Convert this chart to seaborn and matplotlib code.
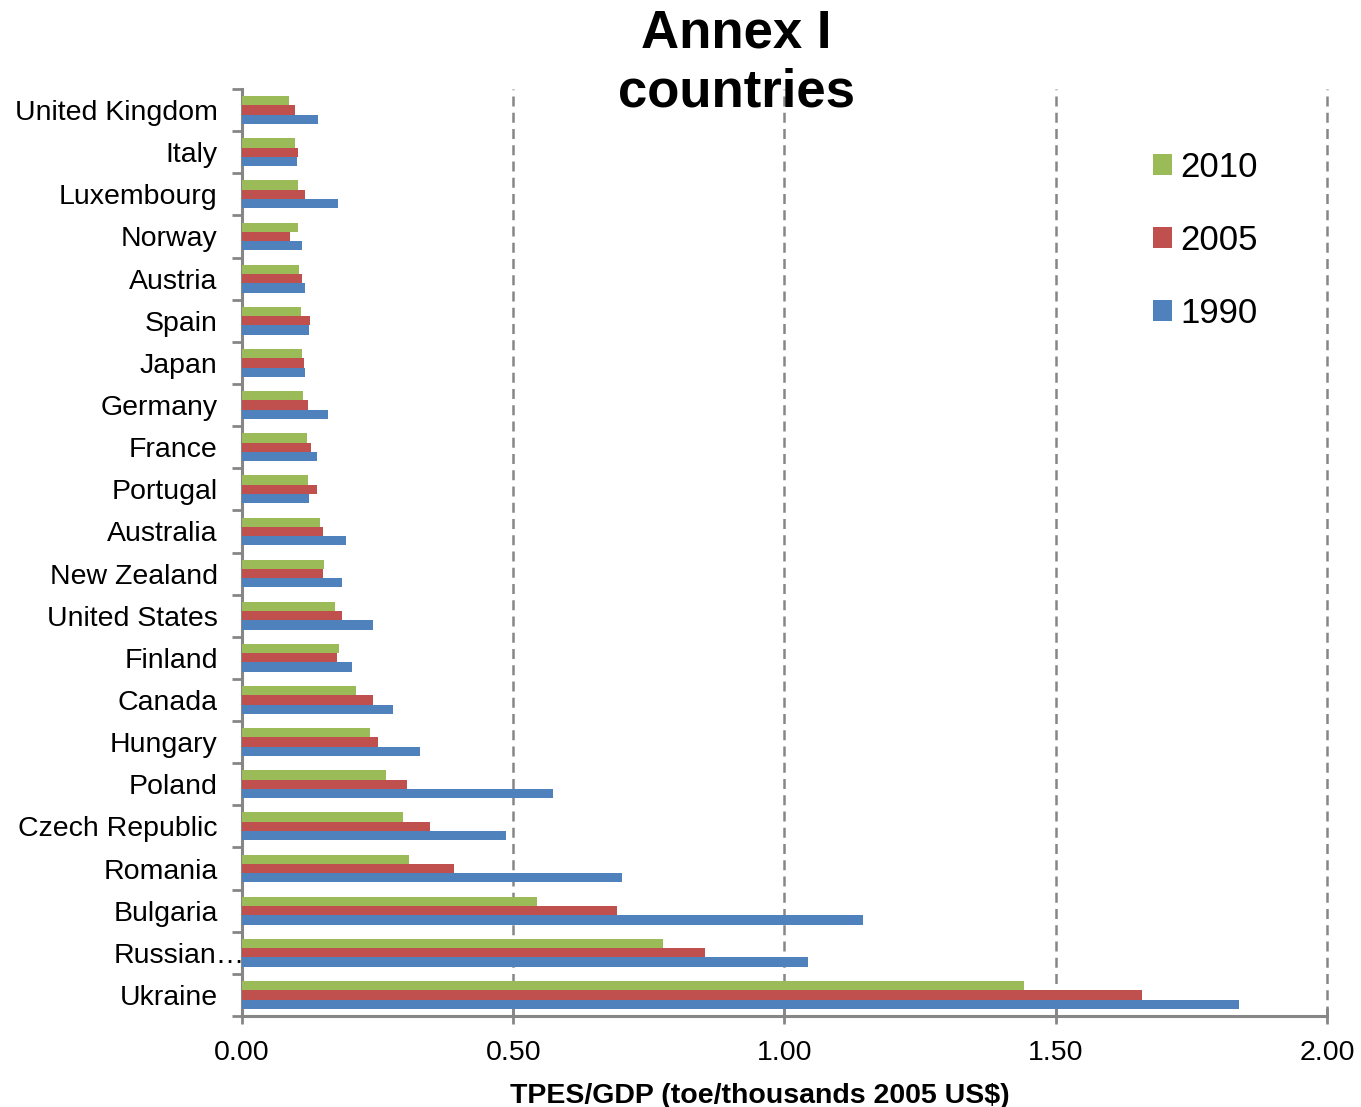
import matplotlib
matplotlib.use("Agg")
import matplotlib.pyplot as plt
from matplotlib.transforms import ScaledTranslation
from matplotlib.ticker import FixedLocator, MultipleLocator
import seaborn as sns
import pandas as pd

countries = ["United Kingdom", "Italy", "Luxembourg", "Norway", "Austria", "Spain",
             "Japan", "Germany", "France", "Portugal", "Australia", "New Zealand",
             "United States", "Finland", "Canada", "Hungary", "Poland",
             "Czech Republic", "Romania", "Bulgaria", "Russian…", "Ukraine"]
years = ["2010", "2005", "1990"]
tpes_2010 = [0.087, 0.098, 0.103, 0.103, 0.105, 0.109, 0.111, 0.112, 0.120, 0.122, 0.144,
             0.151, 0.171, 0.179, 0.210, 0.236, 0.265, 0.297, 0.308, 0.544, 0.776, 1.441]
tpes_2005 = [0.098, 0.103, 0.116, 0.088, 0.111, 0.125, 0.114, 0.122, 0.127, 0.138, 0.149,
             0.149, 0.184, 0.175, 0.241, 0.251, 0.304, 0.347, 0.391, 0.691, 0.853, 1.659]
tpes_1990 = [0.140, 0.101, 0.177, 0.111, 0.116, 0.124, 0.116, 0.159, 0.138, 0.124, 0.192,
             0.184, 0.241, 0.203, 0.278, 0.328, 0.573, 0.487, 0.700, 1.145, 1.043, 1.838]
palette = {"2010": "#9BBB59", "2005": "#C0504D", "1990": "#4F81BD"}

df = pd.concat([
    pd.DataFrame({"country": countries, "year": y, "value": v})
    for y, v in zip(years, [tpes_2010, tpes_2005, tpes_1990])
], ignore_index=True)

sns.set_theme(style="white")
plt.rcParams["font.family"] = ["Liberation Sans", "DejaVu Sans"]
plt.rcParams["text.color"] = "black"
plt.rcParams["axes.labelcolor"] = "black"

fig = plt.figure(figsize=(13.61, 11.07), dpi=100)
ax = fig.add_axes([0.1778, 0.0822, 0.975 - 0.1778, 0.9196 - 0.0822])

sns.barplot(data=df, y="country", x="value", hue="year", hue_order=years,
            order=countries, palette=palette, orient="h", width=0.66,
            saturation=1, errorbar=None, ax=ax, zorder=3,
            edgecolor="none")

ax.set_xlim(0, 2.0)
ax.set_ylim(len(countries) - 0.5, -0.5)
ax.xaxis.set_major_locator(MultipleLocator(0.5))
ax.set_xticklabels([f"{t:.2f}" for t in ax.get_xticks()])
ax.grid(axis="x", color="#868686", linestyle=(0, (4, 2.5)), linewidth=1.8, zorder=0)
ax.set_axisbelow(True)
for gl in ax.get_xgridlines():
    gl.set_clip_on(False)

for side in ["top", "right"]:
    ax.spines[side].set_visible(False)
for side in ["left", "bottom"]:
    ax.spines[side].set_color("#868686")
    ax.spines[side].set_linewidth(2.2)

ax.tick_params(axis="x", which="major", direction="inout", length=12, width=2,
               color="#868686", labelsize=20.5, pad=11, labelcolor="black", bottom=True)
ax.tick_params(axis="y", which="major", length=0, labelsize=20.5, pad=17.5,
               labelcolor="black", left=True)
ax.yaxis.set_minor_locator(FixedLocator([i - 0.5 for i in range(len(countries) + 1)]))
ax.tick_params(axis="y", which="minor", direction="out", length=7, width=2,
               color="#868686", left=True)

# let the ellipsis of the truncated label run past the aligned edge
for lab in ax.get_yticklabels():
    if lab.get_text().endswith("…"):
        lab.set_transform(lab.get_transform() + ScaledTranslation(0.27, 0, fig.dpi_scale_trans))

ax.set_ylabel("")
ax.set_xlabel("TPES/GDP (toe/thousands 2005 US$)", fontsize=20.5, fontweight="bold",
              color="black")
ax.xaxis.set_label_coords(0.477, -0.072)

fig.text(0.541, 0.943, "Annex I\ncountries", ha="center", va="center",
         fontsize=38, fontweight="bold", linespacing=1.22, color="black")

ax.legend(title=None, loc="upper left", bbox_to_anchor=(0.8265, 0.948),
          frameon=False, fontsize=25, handlelength=0.55, handleheight=0.55,
          handletextpad=0.25, labelspacing=1.15, borderaxespad=0,
          labelcolor="black")

fig.savefig("out.png", dpi=100)
